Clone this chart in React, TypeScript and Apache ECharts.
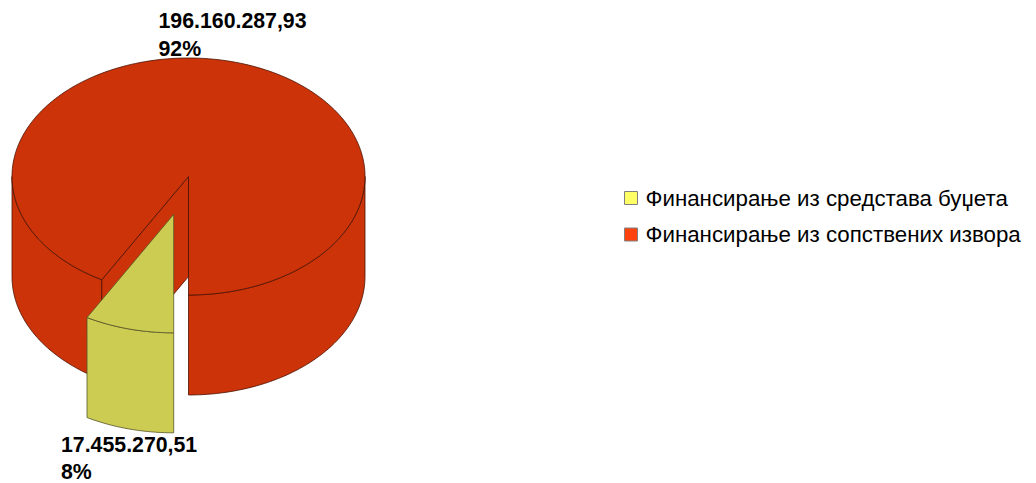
import React, { useEffect, useRef } from "react";
import * as echarts from "echarts";

const categories = ["Финансирање из средстава буџета", "Финансирање из сопствених извора"];
const values = [17455270.51, 196160287.93];
const percentLabels = ["8%", "92%"];
const topColors = ["#CCCC52", "#CC3308"];
const legendColors = ["#FFFF66", "#FF420E"];

const CX = 188.5, CY = 176.5, RX = 176.5, RY = 118.5, DEPTH = 100, EXPLODE = 0.33;
const STROKE_RED = "#4a1203", STROKE_YEL = "#55552a";
const total = values.reduce((a, b) => a + b, 0);
const sliceSweep = (i: number) => (values[i] / total) * 360;
const START = 90; // yellow slice starts pointing straight down

const pt = (deg: number, cx: number, cy: number, dy = 0): number[] => {
  const r = (deg * Math.PI) / 180;
  return [cx + RX * Math.cos(r), cy + RY * Math.sin(r) + dy];
};
const arc = (a: number, b: number, cx: number, cy: number, dy = 0) => {
  const n = Math.max(4, Math.ceil(Math.abs(b - a) / 1.5));
  const out: number[][] = [];
  for (let i = 0; i <= n; i++) out.push(pt(a + ((b - a) * i) / n, cx, cy, dy));
  return out;
};
const poly = (points: number[][], fill: string, stroke: string) => ({
  type: "polygon",
  shape: { points },
  style: { fill, stroke, lineWidth: 0.8 },
});
const side = (a: number, b: number, cx: number, cy: number, fill: string, stroke: string) =>
  poly([...arc(a, b, cx, cy), ...arc(b, a, cx, cy, DEPTH)], fill, stroke);
const textLine = (text: string, x: number, y: number) => ({
  type: "text",
  x,
  y,
  style: {
    text,
    fontFamily: "Liberation Sans",
    fontWeight: "bold",
    fontSize: 21.3,
    fill: "#000",
    textAlign: "left",
    textVerticalAlign: "middle",
  },
});
const amount = (i: number) =>
  values[i].toLocaleString("de-DE", { minimumFractionDigits: 2, maximumFractionDigits: 2 });

const renderRed = () => {
  const end = START + sliceSweep(0);
  const fill = topColors[1];
  const rimPt = pt(end, CX, CY);
  return {
    type: "group",
    children: [
      side(0, 90, CX, CY, fill, STROKE_RED),
      side(end, 180, CX, CY, fill, STROKE_RED),
      poly(
        [[CX, CY], rimPt, [rimPt[0], rimPt[1] + DEPTH], [CX, CY + DEPTH]],
        fill,
        STROKE_RED
      ),
      poly([[CX, CY], ...arc(end, 450, CX, CY)], fill, STROKE_RED),
      textLine(amount(1), 158.5, 21),
      textLine(percentLabels[1], 158.5, 49),
    ],
  };
};

const renderYellow = () => {
  const end = START + sliceSweep(0);
  const mid = ((START + end) / 2) * (Math.PI / 180);
  const cx = CX + EXPLODE * RX * Math.cos(mid);
  const cy = CY + EXPLODE * RY * Math.sin(mid);
  const fill = topColors[0];
  return {
    type: "group",
    children: [
      side(START, end, cx, cy, fill, STROKE_YEL),
      poly([[cx, cy], ...arc(START, end, cx, cy)], fill, STROKE_YEL),
      textLine(amount(0), 61, 445),
      textLine(percentLabels[0], 61, 471.5),
    ],
  };
};

export default function App() {
  const ref = useRef<HTMLDivElement>(null);
  useEffect(() => {
    document.body.style.margin = "0";
    const chart = echarts.init(ref.current!, undefined, { renderer: "svg" });
    chart.setOption({
      animation: false,
      backgroundColor: "#fff",
      legend: {
        orient: "vertical",
        left: 624,
        top: 187,
        padding: 0,
        itemWidth: 13,
        itemHeight: 13,
        itemGap: 14.5,
        icon: "rect",
        selectedMode: false,
        textStyle: {
          fontFamily: "Liberation Sans",
          fontSize: 22.3,
          color: "#000",
          padding: [0, 0, 0, 3],
        },
        data: categories.map((name, i) => ({
          name,
          itemStyle: { color: legendColors[i], borderColor: "#808080", borderWidth: 1 },
        })),
      },
      series: [
        {
          type: "custom",
          name: categories[1],
          coordinateSystem: "none",
          silent: true,
          data: [values[1]],
          renderItem: renderRed,
        },
        {
          type: "custom",
          name: categories[0],
          coordinateSystem: "none",
          silent: true,
          data: [values[0]],
          renderItem: renderYellow,
        },
      ],
    });
    return () => chart.dispose();
  }, []);
  return (
    <div
      ref={ref}
      style={{ position: "fixed", left: 0, top: 0, width: 1036, height: 483 }}
    />
  );
}
